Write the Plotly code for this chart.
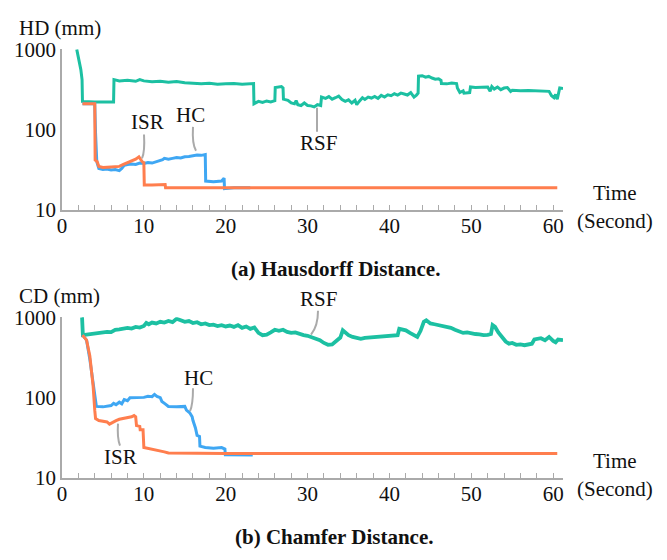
import plotly.graph_objects as go
from plotly.subplots import make_subplots

# ---------------- data ----------------
# (a) Hausdorff distance (mm) vs time (s)
hd_rsf_t = [1.8, 2.3, 2.45, 2.5, 4.0, 6.3, 6.35, 7.0, 8, 9, 9.5, 10, 11, 12, 13, 14, 15, 16, 17, 18, 19, 20, 21, 22, 23.4,
            23.45, 24, 24.5, 25, 25.5, 26.0, 26.05, 26.8, 27.0, 27.05, 27.6, 28.0, 28.4, 28.6, 28.8, 29.2, 29.6, 30.0,
            30.4, 30.8, 31.2, 31.6, 31.7, 32.2, 32.6, 33.0, 33.4, 33.8, 34.2, 34.6, 35.0, 35.4, 35.8, 36.0, 36.3, 36.7,
            37.0, 37.4, 37.8, 38.2, 38.6, 39.0, 39.4, 39.8, 40.2, 40.6, 41.0, 41.4, 41.8, 42.2, 42.6, 43.0, 43.3, 43.5,
            43.55, 44.0, 44.4, 44.8, 45.2, 45.6, 46.0, 46.3, 46.35, 47.0, 47.6, 48.2, 48.3, 48.6, 49.0, 49.1, 49.8, 49.9,
            50.5, 51.0, 51.6, 52.0, 52.3, 52.5, 52.8, 53.2, 53.6, 54.0, 54.4, 54.8, 55.0, 56, 57, 58, 59, 59.5, 59.8,
            60.1, 60.3, 60.5, 60.8, 61.2]
hd_rsf_v = [1000, 560, 420, 225, 222, 222, 420, 405, 412, 400, 420, 405, 395, 400, 390, 398, 385, 380, 372, 378, 368, 372,
            375, 368, 375,
            210, 225, 218, 228, 222, 230, 335, 345, 330, 240, 232, 215, 210, 230, 205, 200, 215, 200,
            198, 192, 205, 200, 255, 245, 258, 240, 250, 262, 238, 225, 235, 215, 232, 205, 225, 250,
            238, 255, 248, 260, 245, 268, 255, 272, 265, 280, 270, 285, 278, 270, 290, 255, 270, 285,
            465, 470, 450, 460, 440, 425, 430, 410, 375, 372, 380, 375, 330, 290, 305, 285, 290, 340,
            335, 338, 335, 340, 300, 345, 320, 340, 315, 330, 335, 300, 310, 305, 307, 305, 303, 300, 265,
            250, 275, 240, 330, 325]

hd_hc_t = [2.5, 4.0, 4.1, 4.25, 4.5, 5, 5.5, 6, 6.5, 7, 7.3, 7.6, 8, 8.5, 9, 9.5, 10, 10.5, 11, 11.5, 12, 12.3, 12.5,
           13, 13.5, 14, 14.5, 15, 15.5, 16, 16.5, 17, 17.5, 17.55, 18.5, 19.5, 19.8, 19.85, 21, 23]
hd_hc_v = [210, 210, 90, 40, 33, 32, 32.5, 31.5, 32, 31, 33, 36, 37, 37.5, 37, 38.5, 38, 39, 38.5, 40, 41, 42.5, 44,
           43, 44, 45, 44.5, 46, 46.5, 48, 48.5, 48, 49, 23, 22.5, 23, 25, 18.5, 19, 19]

hd_isr_t = [2.5, 4.0, 4.05, 4.3, 4.5, 5, 6, 7, 7.5, 8, 8.5, 9, 9.4, 9.6, 9.8, 10.0, 10.05, 11, 12, 12.6, 12.65, 20, 30,
            40, 50, 60.5]
hd_isr_v = [210, 210, 42, 40, 35, 34, 34.5, 35, 37, 39, 41, 43, 46, 43, 40, 39, 20.5, 20.5, 20.7, 20.8, 19, 19, 19,
            19, 19, 19]

# (b) Chamfer distance (mm) vs time (s)
cd_rsf_t = [2.4, 2.45, 2.55, 3.0, 3.5, 4.0, 4.5, 5.0, 5.5, 6.0, 6.5, 7.0, 7.5, 8.0, 8.5, 9.0, 9.5, 10.0, 10.3, 10.6,
            11.0, 11.5, 12.0, 12.5, 13.0, 13.5, 14.0, 14.5, 15.0, 15.5, 16.0, 16.5, 17.0, 17.5, 18.0, 18.5, 19.0, 19.5,
            20.0, 20.5, 21.0, 21.5, 22.0, 22.5, 23.0, 23.5, 24.0, 24.5, 25.0, 25.5, 26.0, 26.5, 27.0, 27.5, 28.0, 28.5,
            29.0, 29.5, 30.0, 30.5, 31.0, 31.5, 32.0, 32.5, 33.0, 33.5, 34.0, 34.3, 34.6, 35.0, 35.5, 36.0, 36.5, 37.0,
            37.5, 38.0, 38.5, 39.0, 39.5, 40.0, 40.5, 41.0, 41.2, 41.6, 42.0, 42.5, 43.0, 43.4, 43.8, 44.2, 44.5, 45.0,
            45.5, 46.0, 46.5, 47.0, 47.5, 48.0, 48.5, 49.0, 49.5, 50.0, 50.5, 51.0, 51.5, 52.0, 52.4, 52.6, 52.9, 53.3,
            53.8, 54.2, 54.6, 55.0, 55.5, 56.0, 56.5, 57.0, 57.4, 57.7, 58.0, 58.5, 59.0, 59.5, 60.0, 60.3, 60.6, 61.2]
cd_rsf_v = [1000, 1000, 600, 610, 615, 630, 640, 650, 660, 655, 700, 710, 730, 740, 725, 760, 745, 780, 850, 820,
            860, 840, 880, 860, 900, 870, 960, 920, 880, 900, 850, 870, 820, 840, 800, 810, 780, 800,
            770, 790, 760, 800, 740, 770, 720, 750, 640, 600, 610, 650, 700, 680, 700, 660, 640, 650,
            620, 600, 590, 570, 550, 520, 480, 455, 460, 500, 560, 690, 640, 600, 570, 560, 540, 555,
            560, 570, 565, 580, 575, 590, 580, 600, 720, 700, 690, 640, 610, 570, 680, 880, 920, 840,
            820, 800, 790, 780, 740, 700, 660, 640, 650, 630, 620, 615, 600, 605, 620, 800, 760, 650,
            560, 500, 470, 480, 455, 460, 450, 455, 470, 530, 540, 550, 520, 570, 510, 490, 530, 520]

cd_hc_t = [2.5, 3.0, 3.4, 3.8, 4.0, 4.2, 5.0, 5.5, 6.0, 6.3, 6.6, 7.0, 7.3, 7.6, 8.0, 8.3, 9.0, 9.5, 10.0, 10.5, 11.0,
           11.3, 11.6, 12.0, 12.2, 12.6, 13.0, 14.0, 15.0, 15.2, 15.6, 15.9, 16.0, 16.3, 16.5, 16.8, 16.85, 17.5, 18.5,
           19.5, 19.9, 19.95, 21, 23.3]
cd_hc_v = [600, 520, 300, 150, 110, 78, 77, 78, 80, 85, 82, 88, 84, 95, 92, 100, 100, 102, 101, 104, 103,
           110, 104, 100, 90, 84, 78, 77, 78, 70, 65, 58, 52, 42, 34, 33, 25, 24, 23.5,
           24, 23, 19.5, 19.4, 19.4]

cd_isr_t = [2.5, 3.0, 3.4, 3.8, 4.0, 4.1, 4.5, 5.0, 5.5, 5.8, 6.2, 6.6, 7.0, 7.5, 8.0, 8.5, 8.8, 9.0, 9.1, 9.5, 9.55,
            9.9, 10.0, 10.5, 11.0, 11.5, 12.0, 12.5, 13.0, 20, 60.5]
cd_isr_v = [600, 520, 330, 140, 70, 55, 52, 51, 50, 47, 50, 52, 54, 55, 56, 58, 60, 58, 45, 44, 40,
            40, 24, 23.5, 23, 22.5, 22, 21.2, 20.5, 20.3, 20.3]

x_ticks = [0, 10, 20, 30, 40, 50, 60]
y_ticks = [10, 100, 1000]
y_ticktext = ["10", "100", "1000"]

TEAL = "#1CC0A2"
BLUE = "#3FA7F3"
ORANGE = "#FF7E4E"
GRAY = "#AAAAAA"
FONT = "Liberation Serif"
FS = 21

W, H = 667, 560
L_M, R_M = 62, 104

fig = make_subplots(rows=2, cols=1)

panels = [
    (1, [(hd_rsf_t, hd_rsf_v, TEAL, 3), (hd_hc_t, hd_hc_v, BLUE, 3), (hd_isr_t, hd_isr_v, ORANGE, 3)]),
    (2, [(cd_rsf_t, cd_rsf_v, TEAL, 3.8), (cd_hc_t, cd_hc_v, BLUE, 3), (cd_isr_t, cd_isr_v, ORANGE, 3)]),
]
for row, series in panels:
    for t, v, c, w in series:
        fig.add_trace(go.Scatter(x=t, y=v, mode="lines", line=dict(color=c, width=w),
                                 showlegend=False, hoverinfo="skip"), row=row, col=1)


def py2paper(py):
    return 1 - py / H


def px2paper(px):
    return (px - L_M) / (W - L_M - R_M)


# y domains (pixel rows of the plot areas)
top_dom = [py2paper(207), py2paper(39)]
bot_dom = [py2paper(487), py2paper(319)]

axis_common_x = dict(range=[0, 61.2], tickvals=x_ticks, ticks="inside", ticklen=5, tickwidth=1,
                     tickcolor=GRAY, showline=True, linecolor=GRAY, linewidth=1.5, showgrid=False,
                     zeroline=False, tickfont=dict(family=FONT, size=FS, color="#111"),
                     ticklabelstandoff=-4,
                     minor=dict(dtick=2, tick0=0, ticks="inside", ticklen=5, tickcolor=GRAY, showgrid=False))
axis_common_y = dict(type="log", range=[1, 3], tickvals=y_ticks, ticktext=y_ticktext, ticks="",
                     showline=True, linecolor=GRAY, linewidth=1.5, showgrid=False, zeroline=False,
                     tickfont=dict(family=FONT, size=FS, color="#111"))

fig.update_xaxes(**axis_common_x)
fig.update_yaxes(**axis_common_y)
fig.update_layout(yaxis=dict(domain=top_dom), yaxis2=dict(domain=bot_dom))

annotations = []


def txt(text, px, py, size=FS, bold=False, xanchor="center"):
    annotations.append(dict(text=f"<b>{text}</b>" if bold else text, x=px2paper(px), y=py2paper(py),
                            xref="paper", yref="paper", showarrow=False, xanchor=xanchor, yanchor="middle",
                            font=dict(family=FONT, size=size, color="#111")))


# axis titles
txt("HD (mm)", 17, 17, xanchor="left")
txt("CD (mm)", 17, 297, xanchor="left")
txt("Time", 615, 189)
txt("(Second)", 615, 218)
txt("Time", 615, 469)
txt("(Second)", 615, 498)
# series labels
txt("ISR", 147, 115)
txt("HC", 190, 108)
txt("RSF", 318, 137)
txt("RSF", 318, 300)
txt("HC", 198, 382)
txt("ISR", 120, 465)
# captions
txt("(a) Hausdorff Distance.", 335, 268, size=21, bold=True)
txt("(b) Chamfer Distance.", 334, 548, size=21, bold=True)

shapes = []


def leader(p0, c, p1):
    path = (f"M {px2paper(p0[0])},{py2paper(p0[1])} Q {px2paper(c[0])},{py2paper(c[1])} "
            f"{px2paper(p1[0])},{py2paper(p1[1])}")
    shapes.append(dict(type="path", path=path, xref="paper", yref="paper",
                       line=dict(color=GRAY, width=2)))


leader((144, 128), (145, 146), (142, 153))
leader((193, 120), (192, 138), (196, 145))
leader((317, 100), (317, 112), (317, 125))
leader((318, 312), (318, 328), (311, 337))
leader((193, 393), (193, 410), (190, 417))
leader((118, 430), (117, 445), (120, 453))

fig.update_layout(width=W, height=H, margin=dict(l=L_M, r=R_M, t=0, b=0),
                  plot_bgcolor="white", paper_bgcolor="white",
                  annotations=annotations, shapes=shapes)

fig.write_html("out.html")
